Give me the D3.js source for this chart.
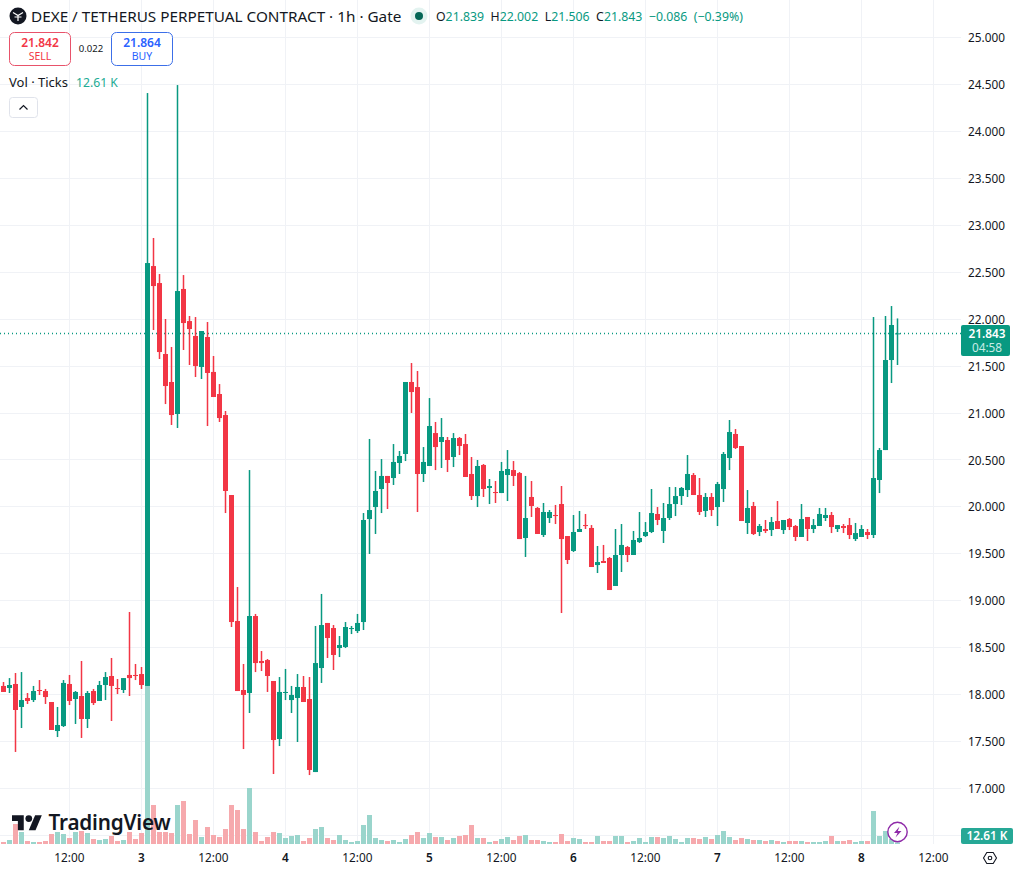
<!DOCTYPE html>
<html>
<head>
<meta charset="utf-8">
<title>DEXE / TETHERUS perpetual contract, 1h</title>
<script src="https://cdn.jsdelivr.net/npm/d3@7/dist/d3.min.js"></script>
<style>
  html, body { margin: 0; padding: 0; background: #fff; }
  svg { display: block; }
  text { font-family: "Noto Sans", sans-serif; fill: #131722; }
</style>
</head>
<body>
<svg id="chart" width="1018" height="872"></svg>
<script>
// Hourly candles; hour 0 is midnight on day 3.
const firstHour = -23;
const opens = [
  18.087,18.065,18.108,17.863,17.959,17.937,18.044,18.033,17.916,17.607,17.660,18.108,17.948,17.980,17.735,18.033,17.927,18.097,18.193,18.065,18.044,18.204,18.204,18.214,
  18.087,22.560,22.379,21.623,21.325,20.984,22.316,21.974,21.815,21.485,21.804,21.432,21.197,20.973,20.121,18.779,18.044,18.012,18.832,18.353,18.363,18.140,17.522,18.012,17.937,17.959,18.076,17.948,17.170,18.278,18.758,18.704,18.491,
  18.502,18.694,18.672,18.768,19.865,19.993,20.185,20.324,20.302,20.462,20.558,21.325,21.271,20.345,20.430,20.781,20.686,20.707,20.526,20.728,20.664,20.345,20.110,20.441,20.196,20.153,20.142,20.334,20.387,20.355,19.663,20.100,19.983,19.695,19.876,19.908,20.025,19.684,19.525,19.727,19.801,19.770,19.375,19.418,19.450,19.152,19.482,19.567,19.482,19.620,19.684,19.727,19.919,19.738,19.876,
  20.025,20.110,20.174,20.334,20.121,19.951,20.100,19.993,20.185,20.515,20.771,20.643,19.823,20.004,19.727,19.759,19.748,19.844,19.748,19.865,19.791,19.674,19.887,19.759,19.791,19.876,19.908,19.759,19.791,19.801,19.652,19.674,19.727,19.695,20.281,20.600,21.559,21.839
];
const highs = [
  18.129,18.171,18.225,18.235,18.012,18.087,18.150,18.055,17.916,17.863,18.150,18.204,18.033,18.353,18.033,18.055,18.140,18.235,18.385,18.161,18.171,18.875,18.321,18.289,
  24.403,22.859,22.475,21.996,21.698,24.488,22.464,22.028,22.017,21.868,21.964,21.602,21.303,21.016,20.121,19.141,18.321,20.387,18.854,18.459,18.374,18.140,18.182,18.268,18.087,18.214,18.193,18.182,18.726,19.067,18.758,18.736,18.619,
  18.768,18.726,18.854,19.929,20.718,20.377,20.504,20.324,20.664,20.590,21.325,21.527,21.442,20.632,21.154,20.899,20.941,20.739,20.781,20.739,20.771,20.526,20.494,20.451,20.291,20.270,20.473,20.600,20.483,20.366,20.324,20.270,19.993,20.036,19.961,20.015,20.217,19.684,19.908,19.951,19.919,19.801,19.578,19.589,19.461,19.759,19.812,19.578,19.738,19.940,19.833,20.185,19.993,20.036,20.206,
  20.206,20.206,20.547,20.355,20.302,20.142,20.142,20.260,20.579,20.920,20.824,20.643,20.174,20.047,19.812,19.855,19.887,20.057,19.855,19.876,19.801,20.025,19.887,19.865,19.983,19.983,19.940,19.801,19.812,19.876,19.823,19.801,19.759,22.017,20.622,22.028,22.134,22.002
];
const lows = [
  18.023,18.012,17.384,17.639,17.895,17.916,17.991,17.895,17.618,17.543,17.650,17.884,17.682,17.533,17.639,17.884,17.927,17.937,17.714,18.001,18.012,17.980,18.150,18.055,
  18.087,21.879,21.570,21.090,20.867,20.835,21.666,21.506,21.378,21.357,20.856,21.165,20.899,19.929,18.715,18.033,17.415,17.799,18.235,18.246,18.023,17.149,17.447,17.937,17.799,17.490,17.916,17.138,17.170,18.119,18.385,18.257,18.395,
  18.491,18.640,18.651,18.683,19.493,19.706,19.929,19.972,20.228,20.345,20.483,20.995,19.940,20.260,20.430,20.387,20.409,20.366,20.419,20.547,20.313,20.068,19.993,20.100,20.025,20.036,20.142,20.057,20.217,19.652,19.461,19.887,19.706,19.674,19.823,19.812,18.864,19.386,19.514,19.727,19.759,19.354,19.290,19.397,19.109,19.152,19.301,19.407,19.482,19.610,19.674,19.716,19.801,19.610,19.855,
  19.897,20.015,20.100,20.121,19.908,19.887,19.897,19.791,20.047,20.387,20.611,19.844,19.706,19.695,19.684,19.716,19.684,19.759,19.706,19.748,19.631,19.674,19.631,19.716,19.791,19.844,19.716,19.727,19.716,19.652,19.631,19.674,19.652,19.663,20.142,20.600,21.314,21.506
];
const closes = [
  18.023,18.097,17.831,17.937,17.927,18.033,18.033,17.969,17.618,17.671,18.119,17.927,18.023,17.735,18.012,17.905,18.097,18.182,18.087,18.055,18.171,18.171,18.193,18.097,
  22.592,22.347,21.644,21.282,20.973,22.294,21.953,21.889,21.495,21.868,21.421,21.165,20.941,20.164,18.768,18.033,17.991,18.832,18.331,18.331,18.193,17.511,18.023,18.023,17.991,18.076,17.916,17.192,18.331,18.736,18.598,18.417,18.523,
  18.715,18.704,18.758,19.855,19.961,20.164,20.324,20.249,20.473,20.537,21.325,21.218,20.345,20.473,20.856,20.632,20.739,20.494,20.728,20.643,20.313,20.110,20.430,20.185,20.217,20.142,20.377,20.398,20.324,19.652,19.876,20.004,19.706,19.940,19.940,19.897,19.652,19.429,19.727,19.759,19.791,19.354,19.407,19.397,19.109,19.482,19.589,19.482,19.642,19.663,19.727,19.929,19.855,19.876,20.025,
  20.110,20.196,20.345,20.121,19.940,20.100,19.961,20.238,20.558,20.792,20.622,19.844,19.983,19.706,19.791,19.738,19.833,19.759,19.855,19.780,19.674,19.865,19.759,19.801,19.919,19.908,19.780,19.801,19.770,19.695,19.716,19.759,19.695,20.302,20.600,21.559,21.932,21.843
];
// Tick counts in thousands.
const volumes = [
  16,32,160,96,24,16,16,24,80,96,80,48,96,104,88,40,32,40,64,24,32,96,40,88,
  1264,312,96,96,88,312,344,80,192,56,136,72,56,120,312,272,120,448,96,24,56,96,88,48,64,72,24,48,120,136,48,32,72,
  32,16,24,152,232,48,32,24,32,16,40,72,96,48,88,56,56,32,48,64,72,152,48,48,16,24,40,56,32,64,72,32,32,24,16,16,80,24,48,40,16,16,64,24,24,64,64,16,24,48,16,56,56,48,64,
  40,16,48,48,40,56,40,72,104,56,32,48,40,32,32,24,32,24,16,24,24,24,16,16,16,24,64,24,24,32,16,24,24,264,64,104,40,12.61
];

const priceTicks = [17,17.5,18,18.5,19,19.5,20,20.5,21,21.5,22,22.5,23,23.5,24,24.5,25];
const priceGridOnly = [16.5];
const timeTickHours = [-12,0,12,24,36,48,60,72,84,96,108,120,132];
const timeTickLabels = ["12:00","3","12:00","4","12:00","5","12:00","6","12:00","7","12:00","8","12:00"];

const titleText = "DEXE / TETHERUS PERPETUAL CONTRACT · 1h · Gate";
const legendValues = [["O","21.839"],["H","22.002"],["L","21.506"],["C","21.843"]];
const legendChange = ["−0.086", "(−0.39%)"];
const sellPrice = "21.842", buyPrice = "21.864", spreadText = "0.022";
const volumeLabel = "12.61 K";
const countdown = "04:58";

const GREEN = "#089981", RED = "#f23645";
const VOL_GREEN = "#9ad5cc", VOL_RED = "#f6a9ad";
const GRID = "#f0f2f6", BLUE = "#2962ff";

const candles = opens.map((o, i) => ({
  hour: firstHour + i, open: o, high: highs[i], low: lows[i], close: closes[i],
  volume: volumes[i], up: closes[i] >= o
}));

const svg = d3.select("#chart");
const plotRight = 961, plotBottom = 844;

const x = d3.scaleLinear().domain([0, 24]).range([141.5, 285.5]);
const y = d3.scaleLinear().domain([17, 25]).range([788, 37]);
const v = d3.scaleLinear().domain([0, 1280]).range([plotBottom, plotBottom - 160]);

// Grid
const grid = svg.append("g").attr("stroke", GRID).attr("stroke-width", 1);
grid.selectAll("line.v").data(timeTickHours).join("line").attr("class", "v")
  .attr("x1", d => x(d)).attr("x2", d => x(d)).attr("y1", 0).attr("y2", plotBottom);
grid.selectAll("line.h").data(priceGridOnly.concat(priceTicks)).join("line").attr("class", "h")
  .attr("x1", 0).attr("x2", plotRight)
  .attr("y1", d => Math.round(y(d)) + 0.5).attr("y2", d => Math.round(y(d)) + 0.5);

// Volume columns, behind the candles
svg.append("g").selectAll("rect").data(candles).join("rect")
  .attr("x", d => x(d.hour) - 2.5).attr("width", 5)
  .attr("y", d => v(d.volume)).attr("height", d => plotBottom - v(d.volume))
  .attr("fill", d => d.up ? VOL_GREEN : VOL_RED);

// Last-price line
const lastCandle = candles[candles.length - 1];
svg.append("line")
  .attr("x1", 0).attr("x2", plotRight)
  .attr("y1", Math.round(y(lastCandle.close)) + 0.5).attr("y2", Math.round(y(lastCandle.close)) + 0.5)
  .attr("stroke", GREEN).attr("stroke-width", 1.3).attr("stroke-dasharray", "1 3");

// Candles
const candleG = svg.append("g").selectAll("g").data(candles).join("g")
  .attr("fill", d => d.up ? GREEN : RED);
candleG.append("rect").attr("class", "wick")
  .attr("x", d => x(d.hour) - 0.75).attr("width", 1.5)
  .attr("y", d => y(d.high)).attr("height", d => y(d.low) - y(d.high));
candleG.append("rect").attr("class", "body")
  .attr("x", d => x(d.hour) - 2.5).attr("width", 5)
  .attr("y", d => y(Math.max(d.open, d.close)))
  .attr("height", d => Math.max(1, Math.abs(y(d.open) - y(d.close))));

// Price axis
const priceAxis = svg.append("g").attr("transform", "translate(1005,0.8)")
  .call(d3.axisRight(y).tickValues(priceTicks).tickFormat(d3.format(".3f")).tickSize(0).tickPadding(0));
priceAxis.select(".domain").remove();
priceAxis.selectAll("text")
  .attr("text-anchor", "end").attr("font-size", 11.8).style("font-family", '"Noto Sans", sans-serif').attr("fill", "#131722");

// Time axis
const timeAxis = svg.append("g").attr("transform", "translate(-0.7,854)")
  .call(d3.axisBottom(x).tickValues(timeTickHours)
    .tickFormat((d, i) => timeTickLabels[i]).tickSize(0).tickPadding(0));
timeAxis.select(".domain").remove();
timeAxis.selectAll("text")
  .attr("font-size", 11.8).style("font-family", '"Noto Sans", sans-serif').attr("fill", "#131722")
  .attr("font-weight", (d, i) => /:/.test(timeTickLabels[i]) ? 400 : 600);

// Header: coin mark, title, live dot, OHLC values
svg.append("circle").attr("cx", 18).attr("cy", 16).attr("r", 8.5).attr("fill", "#131722");
svg.append("path").attr("d", "M13 12.5 L18 15.5 L23 12.5 M18 15.5 V21 M14.5 17 H21.5")
  .attr("fill", "none").attr("stroke", "#fff").attr("stroke-width", 1.2);
svg.append("text").attr("x", 31).attr("y", 21.5).attr("font-size", 15.3).text(titleText);
svg.append("circle").attr("cx", 419).attr("cy", 16).attr("r", 8.5).attr("fill", "#e3f3f0");
svg.append("circle").attr("cx", 419).attr("cy", 16).attr("r", 4).attr("fill", "#056656");

const legendG = svg.append("text").attr("x", 436).attr("y", 21).attr("font-size", 12.3);
legendValues.forEach(([k, val], i) => {
  legendG.append("tspan").attr("dx", i ? 6.5 : 0).text(k);
  legendG.append("tspan").style("fill", GREEN).text(val);
});
legendChange.forEach(part => {
  legendG.append("tspan").attr("dx", 6.5).style("fill", GREEN).text(part);
});

// Sell / buy buttons
function quoteBox(left, colour, textColour, price, label) {
  svg.append("rect").attr("x", left + 0.5).attr("y", 32.5).attr("width", 61).attr("height", 33).attr("rx", 5)
    .attr("fill", "#fff").attr("stroke", colour);
  svg.append("text").attr("x", left + 31).attr("y", 47).attr("text-anchor", "middle")
    .attr("font-size", 12).attr("font-weight", 600).style("fill", textColour).text(price);
  svg.append("text").attr("x", left + 31).attr("y", 60).attr("text-anchor", "middle")
    .attr("font-size", 10.5).style("fill", textColour).text(label);
}
quoteBox(9, "#e8526a", RED, sellPrice, "SELL");
quoteBox(111, "#3c6fe8", BLUE, buyPrice, "BUY");
svg.append("text").attr("x", 91).attr("y", 52).attr("text-anchor", "middle").attr("font-size", 9.6).text(spreadText);

// Volume legend and collapse button
svg.append("text").attr("x", 9).attr("y", 87).attr("font-size", 13).text("Vol · Ticks");
svg.append("text").attr("x", 76).attr("y", 87).attr("font-size", 12.2).style("fill", "#22ab94").text(volumeLabel);
svg.append("rect").attr("x", 9.5).attr("y", 97.5).attr("width", 28).attr("height", 20).attr("rx", 3)
  .attr("fill", "#fff").attr("stroke", "#e0e3eb");
svg.append("path").attr("d", "M19.5 109.5 L23.5 105.5 L27.5 109.5").attr("fill", "none")
  .attr("stroke", "#131722").attr("stroke-width", 1.2);

// Last price and countdown tag
svg.append("rect").attr("x", 961).attr("y", 325).attr("width", 49).attr("height", 31).attr("rx", 2).attr("fill", GREEN);
svg.append("text").attr("x", 987).attr("y", 338).attr("text-anchor", "middle").attr("font-size", 11.8)
  .attr("font-weight", 600).style("fill", "#fff").text(d3.format(".3f")(lastCandle.close));
svg.append("text").attr("x", 987).attr("y", 352).attr("text-anchor", "middle").attr("font-size", 11.8)
  .style("fill", "#c8ece6").text(countdown);

// Volume tag
svg.append("rect").attr("x", 961).attr("y", 828).attr("width", 52).attr("height", 16).attr("rx", 2).attr("fill", "#26a896");
svg.append("text").attr("x", 987).attr("y", 840).attr("text-anchor", "middle").attr("font-size", 11.8)
  .attr("font-weight", 600).style("fill", "#fff").text(volumeLabel);

// Settings hexagon
svg.append("path").attr("d", "M983.5 858 L986.8 852.5 L993.2 852.5 L996.5 858 L993.2 863.5 L986.8 863.5 Z")
  .attr("fill", "none").attr("stroke", "#131722").attr("stroke-width", 1.1);
svg.append("circle").attr("cx", 990).attr("cy", 858).attr("r", 1.8).attr("fill", "none")
  .attr("stroke", "#131722").attr("stroke-width", 1.1);

// Lightning badge
svg.append("circle").attr("cx", 897.5).attr("cy", 832).attr("r", 9.7).attr("fill", "#fff")
  .attr("stroke", "#8e2aa8").attr("stroke-width", 1.4);
svg.append("path").attr("d", "M899.5 826.5 L894 833 L897.5 833 L895.5 837.5 L901.5 831 L897.8 831 Z").attr("fill", "#8e2aa8");

// Wordmark
const logo = svg.append("g").attr("transform", "translate(12,811.8) scale(0.84)").attr("fill", "#131722");
logo.append("path").attr("d", "M14 22H7V11H0V4h14v18z");
logo.append("path").attr("d", "M28 22h-8l7.5-18h8L28 22z");
logo.append("circle").attr("cx", 20).attr("cy", 8).attr("r", 4);
svg.append("text").attr("x", 48.5).attr("y", 830).attr("font-size", 20.7).attr("font-weight", 600)
  .attr("letter-spacing", -0.2).text("TradingView");
</script>
</body>
</html>
